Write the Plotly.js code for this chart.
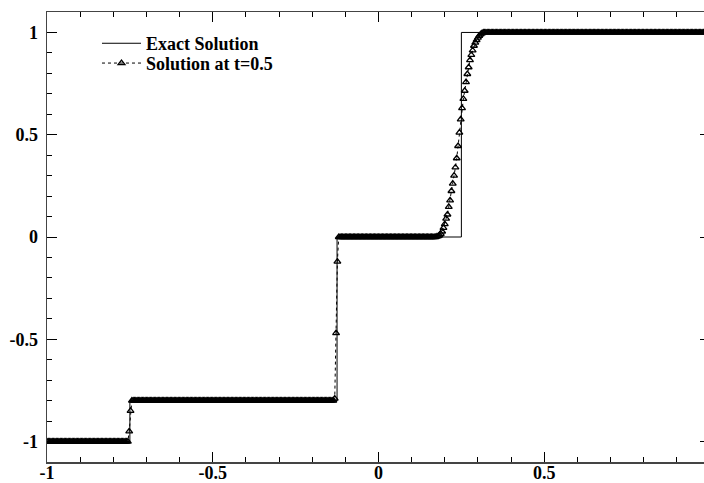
<!DOCTYPE html>
<html>
<head>
<meta charset="utf-8">
<script src="https://cdn.plot.ly/plotly-3.0.1.min.js"></script>
<style>
html, body { margin: 0; padding: 0; overflow: hidden; background: #fff; }
#chart { width: 712px; height: 483px; }
</style>
</head>
<body>
<div id="chart"></div>
<script>
// Exact solution (piecewise constant, step plot)
const exactX = [-1, -0.75, -0.125, 0.25, 1];
const exactY = [-1, -0.8, 0, 1, 1];

// Numerical solution at t=0.5, sampled on a uniform mesh starting at meshStart with spacing meshStep
const meshStart = -1;
const meshStep = 0.004;
const numY = [
  -1,-1,-1,-1,-1,-1,-1,-1,-1,-1,
  -1,-1,-1,-1,-1,-1,-1,-1,-1,-1,
  -1,-1,-1,-1,-1,-1,-1,-1,-1,-1,
  -1,-1,-1,-1,-1,-1,-1,-1,-1,-1,
  -1,-1,-1,-1,-1,-1,-1,-1,-1,-1,
  -1,-1,-1,-1,-1,-1,-1,-1,-1,-1,
  -1,-1,
  -0.95,-0.85,
  -0.8,-0.8,-0.8,-0.8,-0.8,-0.8,-0.8,-0.8,-0.8,-0.8,
  -0.8,-0.8,-0.8,-0.8,-0.8,-0.8,-0.8,-0.8,-0.8,-0.8,
  -0.8,-0.8,-0.8,-0.8,-0.8,-0.8,-0.8,-0.8,-0.8,-0.8,
  -0.8,-0.8,-0.8,-0.8,-0.8,-0.8,-0.8,-0.8,-0.8,-0.8,
  -0.8,-0.8,-0.8,-0.8,-0.8,-0.8,-0.8,-0.8,-0.8,-0.8,
  -0.8,-0.8,-0.8,-0.8,-0.8,-0.8,-0.8,-0.8,-0.8,-0.8,
  -0.8,-0.8,-0.8,-0.8,-0.8,-0.8,-0.8,-0.8,-0.8,-0.8,
  -0.8,-0.8,-0.8,-0.8,-0.8,-0.8,-0.8,-0.8,-0.8,-0.8,
  -0.8,-0.8,-0.8,-0.8,-0.8,-0.8,-0.8,-0.8,-0.8,-0.8,
  -0.8,-0.8,-0.8,-0.8,-0.8,-0.8,-0.8,-0.8,-0.8,-0.8,
  -0.8,-0.8,-0.8,-0.8,-0.8,-0.8,-0.8,-0.8,-0.8,-0.8,
  -0.8,-0.8,-0.8,-0.8,-0.8,-0.8,-0.8,-0.8,-0.8,-0.8,
  -0.8,-0.8,-0.8,-0.8,-0.8,-0.8,-0.8,-0.8,-0.8,-0.8,
  -0.8,-0.8,-0.8,-0.8,-0.8,-0.8,-0.8,-0.8,-0.8,-0.8,
  -0.8,-0.8,-0.8,-0.8,-0.8,-0.8,-0.8,-0.8,-0.8,-0.8,
  -0.8,-0.8,-0.8,
  -0.79,-0.47,-0.12,
  0,0,0,0,0,0,0,0,0,0,
  0,0,0,0,0,0,0,0,0,0,
  0,0,0,0,0,0,0,0,0,0,
  0,0,0,0,0,0,0,0,0,0,
  0,0,0,0,0,0,0,0,0,0,
  0,0,0,0,0,0,0,0,0,0,
  0,0,0,0,0,0,0,0,0,0,
  0,0,0,0,
  0.002,0.004,0.008,
  0.015,0.027,0.045,0.063,0.09,0.11,0.147,0.179,0.225,0.261,
  0.30,0.34,0.385,0.445,0.51,0.575,0.63,0.675,0.715,0.757,
  0.797,0.83,0.865,0.89,0.912,0.935,0.95,0.963,0.975,0.984,
  0.991,0.996,
  1,1,1,1,1,1,1,1,1,1,
  1,1,1,1,1,1,1,1,1,1,
  1,1,1,1,1,1,1,1,1,1,
  1,1,1,1,1,1,1,1,1,1,
  1,1,1,1,1,1,1,1,1,1,
  1,1,1,1,1,1,1,1,1,1,
  1,1,1,1,1,1,1,1,1,1,
  1,1,1,1,1,1,1,1,1,1,
  1,1,1,1,1,1,1,1,1,1,
  1,1,1,1,1,1,1,1,1,1,
  1,1,1,1,1,1,1,1,1,1,
  1,1,1,1,1,1,1,1,1,1,
  1,1,1,1,1,1,1,1,1,1,
  1,1,1,1,1,1,1,1,1,1,
  1,1,1,1,1,1,1,1,1,1,
  1,1,1,1,1,1,1,1,1,1,
  1,1,1,1,1,1,1,1,1,1,
  1
];

// Tick labels
const xTickVals = [-1, -0.5, 0, 0.5, 1];
const xTickText = ['-1', '-0.5', '0', '0.5', '1'];
const yTickVals = [-1, -0.5, 0, 0.5, 1];
const yTickText = ['-1', '-0.5', '0', '0.5', '1'];

const seriesNames = ['Exact Solution', 'Solution at t=0.5'];

const FONT = '"Liberation Serif", "Times New Roman", Times, serif';

const traces = [
  {
    type: 'scatter', mode: 'lines', name: seriesNames[0], legend: 'legend',
    x: exactX, y: exactY,
    line: { color: '#000', width: 1, shape: 'hv' }
  },
  {
    type: 'scatter', mode: 'lines+markers', name: seriesNames[1], legend: 'legend2',
    x0: meshStart, dx: meshStep, y: numY,
    line: { color: '#000', width: 1, dash: 'dot' },
    marker: { symbol: 'triangle-up-open', size: 6, color: '#000', line: { width: 1.3, color: '#000' } }
  }
];

function axis(vals, text, range) {
  return {
    range: range,
    tickmode: 'array', tickvals: vals, ticktext: text,
    ticks: 'inside', ticklen: 10, tickwidth: 1, tickcolor: '#000',
    showline: true, linecolor: '#444', linewidth: 1.5, mirror: 'ticks',
    showgrid: false, zeroline: false,
    minor: { tickmode: 'linear', tick0: 0, dtick: 0.1, ticks: 'inside', ticklen: 5, tickwidth: 1, tickcolor: '#000', showgrid: false },
    tickfont: { family: FONT, size: 18, color: '#000', weight: 700 }
  };
}

const xa = axis(xTickVals, xTickText, [-1, 1]);
xa.ticklabelstandoff = -6;
const ya = axis(yTickVals, yTickText, [-1.1, 1.1]);
ya.ticklabelstandoff = 4;

const legendCommon = {
  xanchor: 'left', yanchor: 'top',
  bgcolor: 'rgba(0,0,0,0)', borderwidth: 0,
  itemwidth: 39,
  font: { family: FONT, size: 18, color: '#000', weight: 700 }
};

const layout = {
  width: 712, height: 483,
  margin: { l: 47, r: 2, t: 12, b: 21 },
  paper_bgcolor: '#fff', plot_bgcolor: '#fff',
  font: { family: FONT, size: 16, color: '#000' },
  showlegend: true,
  legend: Object.assign({ x: 0.0754, y: 0.971 }, legendCommon),
  legend2: Object.assign({ x: 0.0754, y: 0.927 }, legendCommon),
  xaxis: xa,
  yaxis: ya
};

Plotly.newPlot('chart', traces, layout, { displayModeBar: false, staticPlot: true });
</script>
</body>
</html>
